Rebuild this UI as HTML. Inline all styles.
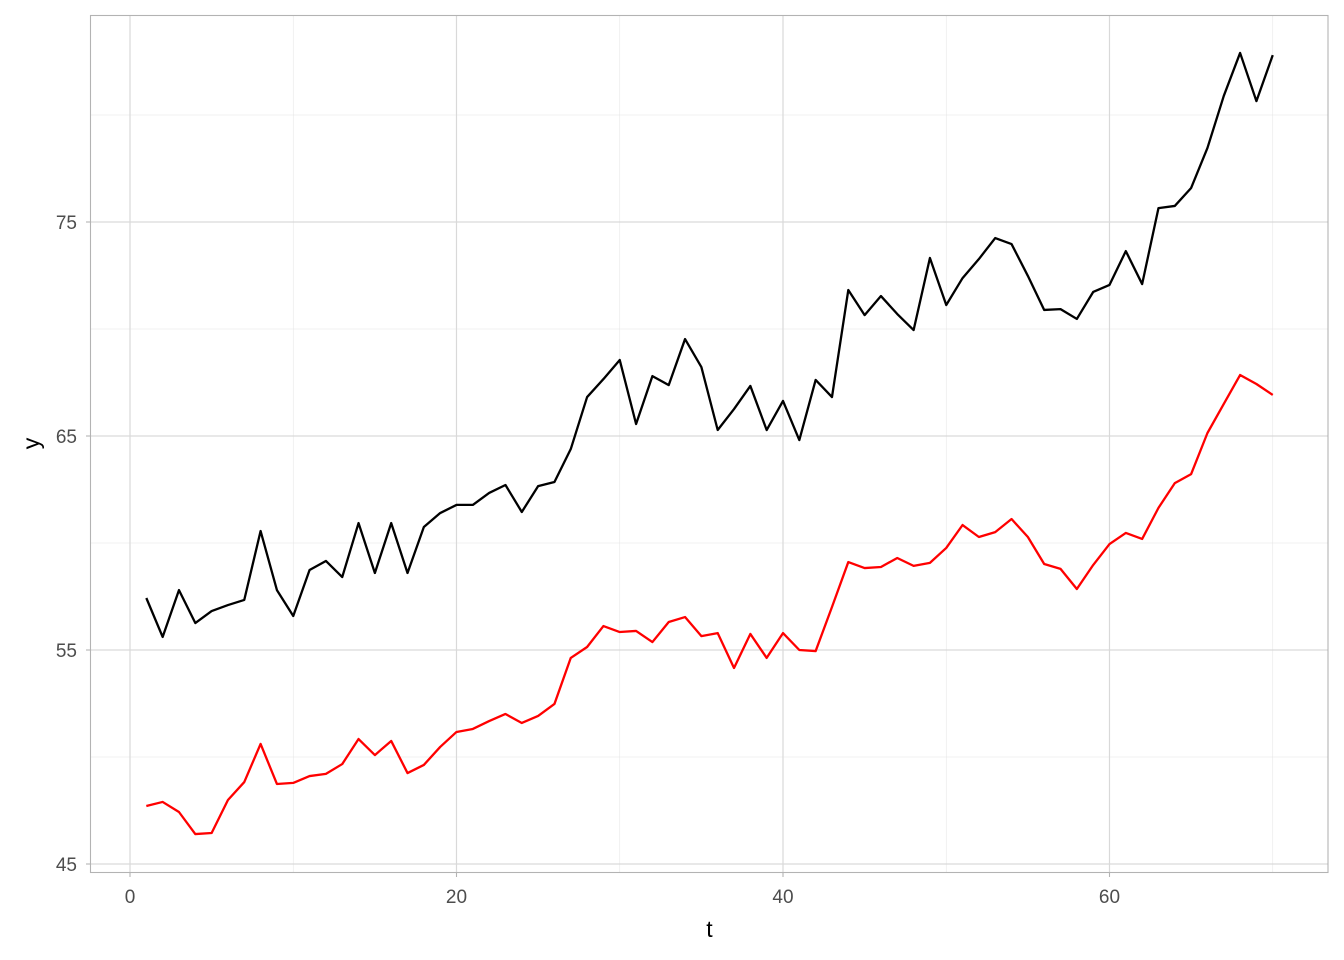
<!DOCTYPE html>
<html><head><meta charset="utf-8"><style>
body{margin:0;background:#fff}
svg{display:block;font-family:"Liberation Sans",sans-serif}
</style></head><body>
<svg id="chart" width="1344" height="960" viewBox="0 0 1344 960">
<rect width="1344" height="960" fill="#fff"/>
<g id="grid"></g>
<g id="lines"></g>
<rect x="90.5" y="15.5" width="1237.5" height="857" fill="none" stroke="#b3b3b3" stroke-width="1.1"/>
<g id="axes"></g>
<text x="709.5" y="937" font-size="23" text-anchor="middle" fill="#000">t</text>
<text x="0" y="0" transform="translate(39,443.5) rotate(-90)" font-size="23" text-anchor="middle" fill="#000">y</text>
</svg>
<script>
const tValues = Array.from({length:70},(_, i)=>i+1);
const seriesBlack = [57.43,55.61,57.80,56.26,56.82,57.10,57.34,60.56,57.80,56.59,58.74,59.16,58.41,60.93,58.60,60.93,58.60,60.75,61.40,61.78,61.78,62.34,62.71,61.45,62.66,62.85,64.39,66.82,67.66,68.55,65.56,67.80,67.38,69.53,68.22,65.28,66.26,67.34,65.28,66.64,64.81,67.62,66.82,71.82,70.65,71.54,70.70,69.95,73.32,71.12,72.38,73.27,74.25,73.97,72.48,70.89,70.93,70.47,71.73,72.06,73.64,72.10,75.65,75.75,76.59,78.46,80.89,82.90,80.65,82.80];
const seriesRed = [47.71,47.90,47.43,46.40,46.45,47.99,48.83,50.61,48.74,48.79,49.11,49.21,49.67,50.84,50.09,50.75,49.25,49.63,50.47,51.17,51.31,51.68,52.01,51.59,51.92,52.48,54.63,55.14,56.12,55.84,55.89,55.37,56.31,56.54,55.65,55.79,54.16,55.75,54.63,55.79,55.00,54.95,57.01,59.11,58.83,58.88,59.30,58.93,59.07,59.77,60.84,60.28,60.51,61.12,60.28,59.02,58.79,57.85,58.97,59.95,60.47,60.19,61.64,62.80,63.22,65.14,66.50,67.85,67.43,66.92];
const xTicks = [0,20,40,60];
const xMinor = [10,30,50,70];
const yTicks = [45,55,65,75];
const yMinor = [50,60,70,80];

const NS="http://www.w3.org/2000/svg";
const xs = t => 130 + (t-0)*16.325;
const ys = v => 864 - (v-45)*21.4;
function mk(tag, attrs, parent){const e=document.createElementNS(NS,tag);for(const k in attrs)e.setAttribute(k,attrs[k]);parent.appendChild(e);return e;}
const grid=document.getElementById('grid'), lines=document.getElementById('lines'), axes=document.getElementById('axes');
xMinor.forEach(t=>{const x=xs(t); if(x<1328){const l=mk('line',{x1:x,x2:x,y1:15.5,y2:872.5,stroke:'#e6e6e6','stroke-width':0.6},grid);

}});
yMinor.forEach(v=>{const y=ys(v);const l=mk('line',{x1:90.5,x2:1328,y1:y,y2:y,stroke:'#e6e6e6','stroke-width':0.6},grid);

});
xTicks.forEach(t=>{const x=xs(t);const l=mk('line',{x1:x,x2:x,y1:15.5,y2:872.5,stroke:'#d9d9d9','stroke-width':1.2},grid);


const tk=mk('line',{x1:x,x2:x,y1:872.5,y2:877,stroke:'#b3b3b3','stroke-width':1.1},axes);


const tx=mk('text',{x:x,y:903,'font-size':19,'text-anchor':'middle',fill:'#4d4d4d'},axes);tx.textContent=t;

});
yTicks.forEach(v=>{const y=ys(v);const l=mk('line',{x1:90.5,x2:1328,y1:y,y2:y,stroke:'#d9d9d9','stroke-width':1.2},grid);


const tk=mk('line',{x1:86,x2:90.5,y1:y,y2:y,stroke:'#b3b3b3','stroke-width':1.1},axes);


const tx=mk('text',{x:77,y:y+7,'font-size':19,'text-anchor':'end',fill:'#4d4d4d'},axes);tx.textContent=v;

});
function path(vals,color,name){const d=vals.map((v,i)=>(i?'L':'M')+xs(tValues[i]).toFixed(2)+','+ys(v).toFixed(2)).join('');
const p=mk('path',{d:d,fill:'none',stroke:color,'stroke-width':2.3,'stroke-linejoin':'round'},lines);

}
path(seriesBlack,'#000','black-series-line');
path(seriesRed,'#ff0000','red-series-line');
</script>
</body></html>
